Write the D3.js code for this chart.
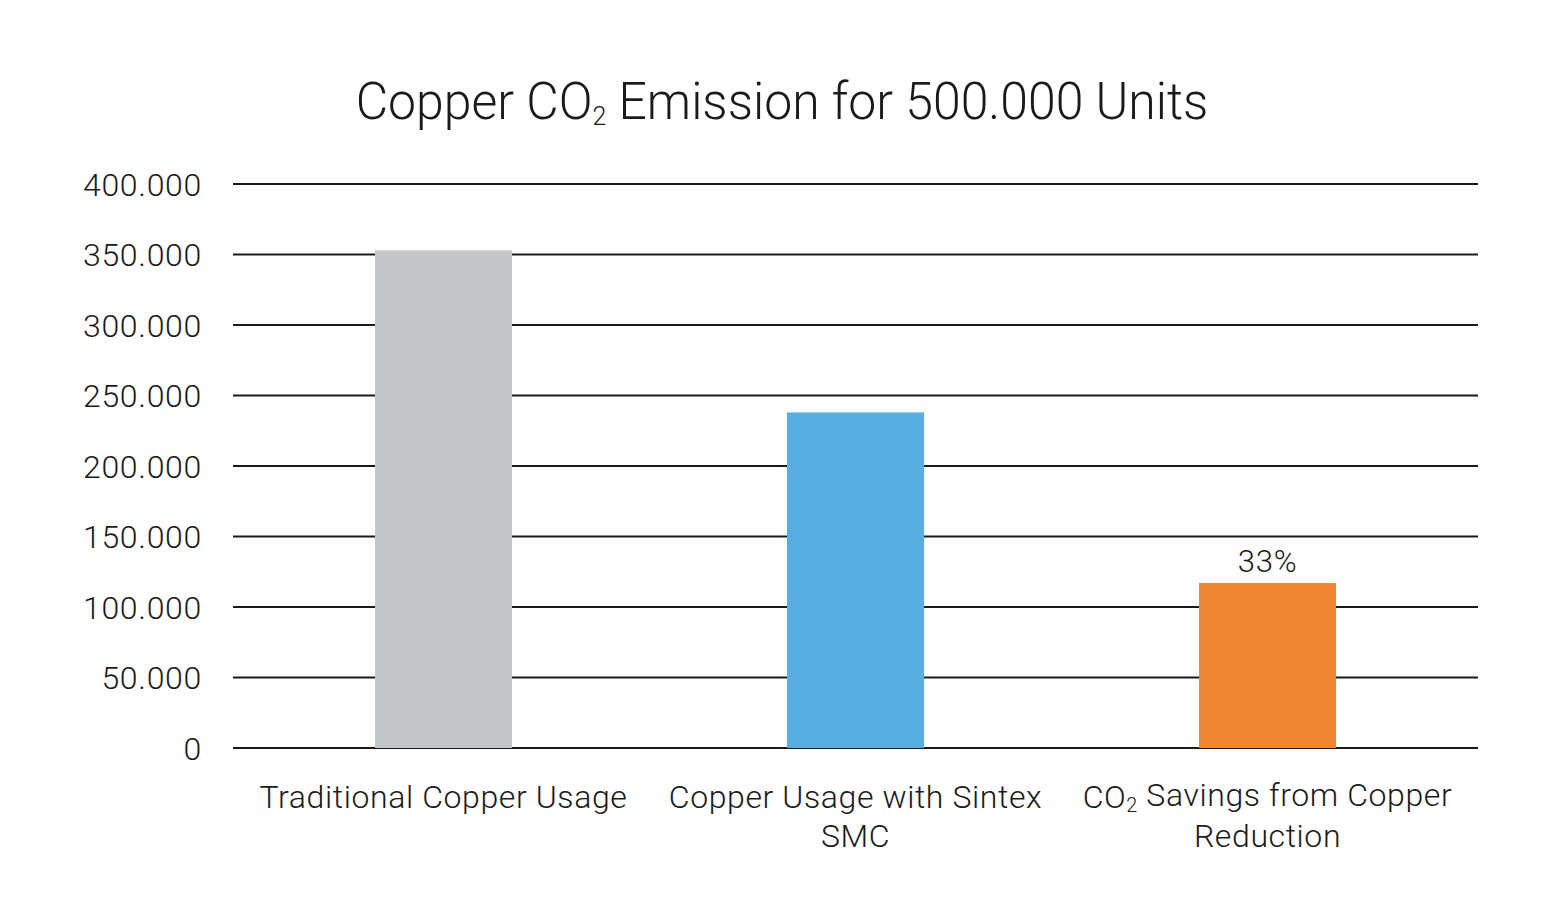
<!DOCTYPE html>
<html>
<head>
<meta charset="utf-8">
<script src="https://cdn.jsdelivr.net/npm/d3@7"></script>
<style>
  body { margin: 0; background: #fff; }
  text { font-family: Roboto, "Noto Sans", sans-serif; font-weight: 300; fill: #1a1a1a; }
</style>
</head>
<body>
<div id="chart"></div>
<script>
// chart data
var categories = ["Traditional Copper Usage", "Copper Usage with Sintex SMC", "CO2 Savings from Copper Reduction"];
var categoryLines = [["Traditional Copper Usage"], ["Copper Usage with Sintex", "SMC"], ["CO2 Savings from Copper", "Reduction"]];
var values = [353000, 238000, 117000];
var barColors = ["#C5C6C8", "#58AEE0", "#F08532"];
var valueLabels = ["", "", "33%"];
var yTicks = [0, 50000, 100000, 150000, 200000, 250000, 300000, 350000, 400000];

var width = 1566, height = 920;
var margin = {top: 184, right: 88, bottom: 172, left: 233};

var svg = d3.select("#chart").append("svg")
    .attr("width", width)
    .attr("height", height);

var x = d3.scaleBand()
    .domain(categories)
    .range([margin.left + 4.5, width - margin.right - 4.5])
    .paddingInner(0.6675)
    .paddingOuter(0.33375);

var y = d3.scaleLinear()
    .domain([0, 400000])
    .range([height - margin.bottom, margin.top]);

// writes text with "CO2" subscripted
function addRich(sel, str) {
    var parts = str.split("CO2");
    parts.forEach(function (p, i) {
        if (i > 0) {
            sel.append("tspan").text("CO");
            sel.append("tspan").attr("dy", "0.2em").attr("font-size", "0.62em").text("2");
            sel.append("tspan").attr("dy", "-0.2em").text(p);
        } else if (p.length) {
            sel.append("tspan").text(p);
        }
    });
}

// title (slightly condensed like the original)
var title = svg.append("text")
    .attr("transform", "translate(782,119) scale(0.96,1)")
    .attr("text-anchor", "middle")
    .attr("font-size", 52);
title.append("tspan").text("Copper CO");
title.append("tspan").attr("dy", 6).attr("font-size", 26).text("2");
title.append("tspan").attr("dy", -6).text(" Emission for 500.000 Units");

// gridlines
svg.append("g").selectAll("line")
    .data(yTicks)
    .enter()
    .append("line")
    .attr("x1", margin.left)
    .attr("x2", width - margin.right)
    .attr("y1", function (d) { return y(d); })
    .attr("y2", function (d) { return y(d); })
    .attr("stroke", "#1a1a1a")
    .attr("stroke-width", 2);

// y tick labels
var fmt = function (d) { return d === 0 ? "0" : d3.format(",")(d).replace(/,/g, "."); };
svg.append("g").selectAll("text")
    .data(yTicks)
    .enter()
    .append("text")
    .attr("x", 202)
    .attr("y", function (d) { return y(d); })
    .attr("dy", "0.36em")
    .attr("text-anchor", "end")
    .attr("font-size", 32)
    .attr("letter-spacing", 0.7)
    .text(fmt);

// bars
svg.append("g").selectAll("rect")
    .data(values)
    .enter()
    .append("rect")
    .attr("x", function (d, i) { return x(categories[i]); })
    .attr("width", x.bandwidth())
    .attr("y", function (d) { return y(d); })
    .attr("height", function (d) { return y(0) - y(d); })
    .attr("fill", function (d, i) { return barColors[i]; });

// value labels
svg.append("g").selectAll("text")
    .data(values)
    .enter()
    .append("text")
    .attr("x", function (d, i) { return x(categories[i]) + x.bandwidth() / 2; })
    .attr("y", function (d) { return y(d) - 11; })
    .attr("text-anchor", "middle")
    .attr("font-size", 31)
    .attr("letter-spacing", 0.8)
    .text(function (d, i) { return valueLabels[i]; });

// category labels
categories.forEach(function (c, i) {
    categoryLines[i].forEach(function (line, j) {
        var t = svg.append("text")
            .attr("x", x(c) + x.bandwidth() / 2)
            .attr("y", 808 + j * 39)
            .attr("text-anchor", "middle")
            .attr("font-size", 32)
            .attr("letter-spacing", 0.6);
        addRich(t, line);
    });
});
</script>
</body>
</html>
